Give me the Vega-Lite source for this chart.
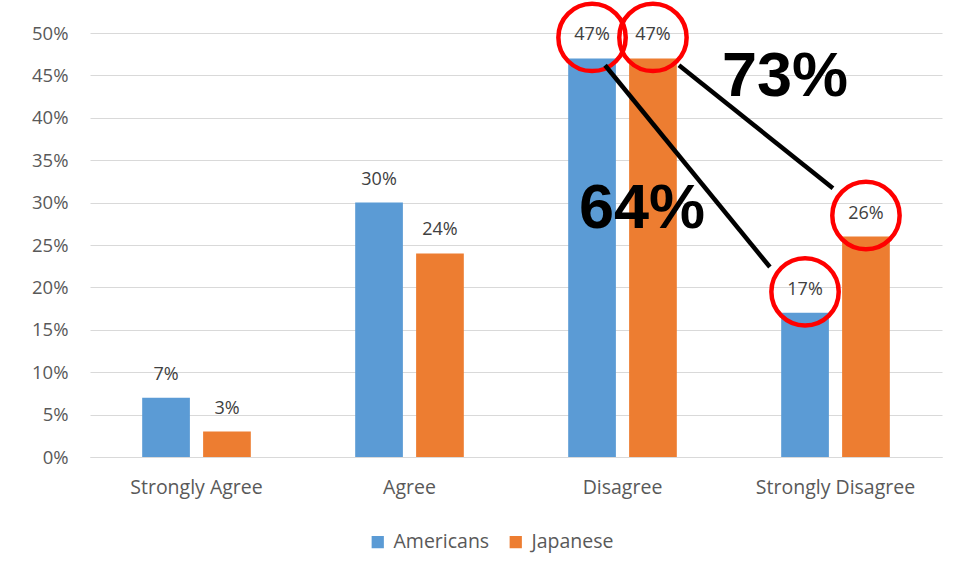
{
  "$schema": "https://vega.github.io/schema/vega-lite/v6.json",
  "width": 852,
  "height": 424,
  "autosize": {"type": "none"},
  "padding": {"left": 90, "top": 33, "right": 11, "bottom": 120},
  "background": "white",
  "config": {"font": "Open Sans", "view": {"stroke": null}},
  "datasets": {
    "survey": [
      {"answer": "Strongly Agree", "group": "Americans", "share": 0.07},
      {"answer": "Strongly Agree", "group": "Japanese", "share": 0.03},
      {"answer": "Agree", "group": "Americans", "share": 0.30},
      {"answer": "Agree", "group": "Japanese", "share": 0.24},
      {"answer": "Disagree", "group": "Americans", "share": 0.47},
      {"answer": "Disagree", "group": "Japanese", "share": 0.47},
      {"answer": "Strongly Disagree", "group": "Americans", "share": 0.17},
      {"answer": "Strongly Disagree", "group": "Japanese", "share": 0.26}
    ],
    "links": [
      {"link": "Americans", "pos": 2.418, "share": 0.462},
      {"link": "Americans", "pos": 3.192, "share": 0.224},
      {"link": "Japanese", "pos": 2.765, "share": 0.462},
      {"link": "Japanese", "pos": 3.488, "share": 0.317}
    ],
    "totals": [
      {"label": "73%", "pos": 3.263, "share": 0.448},
      {"label": "64%", "pos": 2.592, "share": 0.293}
    ]
  },
  "layer": [
    {
      "data": {"name": "survey"},
      "encoding": {
        "x": {
          "field": "answer",
          "type": "nominal",
          "sort": ["Strongly Agree", "Agree", "Disagree", "Strongly Disagree"],
          "scale": {"paddingInner": 0.49, "paddingOuter": 0.245},
          "axis": {
            "title": null,
            "labelAngle": 0,
            "labelFontSize": 19.5,
            "labelColor": "#595959",
            "ticks": false,
            "domainColor": "#d9d9d9",
            "labelPadding": 21
          }
        },
        "xOffset": {
          "field": "group",
          "type": "nominal",
          "scale": {"paddingInner": 0.217}
        },
        "y": {
          "field": "share",
          "type": "quantitative",
          "scale": {"domain": [0, 0.5], "nice": false},
          "axis": {
            "title": null,
            "values": [0, 0.05, 0.1, 0.15, 0.2, 0.25, 0.3, 0.35, 0.4, 0.45, 0.5],
            "format": ".0%",
            "ticks": false,
            "domain": false,
            "gridColor": "#d9d9d9",
            "labelFontSize": 18.5,
            "labelColor": "#595959",
            "labelPadding": 22
          }
        }
      },
      "layer": [
        {
          "mark": {"type": "bar"},
          "encoding": {
            "color": {
              "field": "group",
              "type": "nominal",
              "scale": {"domain": ["Americans", "Japanese"], "range": ["#5B9BD5", "#ED7D31"]},
              "legend": {
                "title": null,
                "orient": "none",
                "legendX": 278,
                "legendY": 499,
                "direction": "horizontal",
                "labelFontSize": 19.5,
                "labelColor": "#595959",
                "labelOffset": 6,
                "symbolType": "square",
                "symbolSize": 150,
                "symbolStrokeWidth": 0,
                "columnPadding": 16
              }
            }
          }
        },
        {
          "mark": {"type": "text", "baseline": "alphabetic", "dy": -18, "fontSize": 18, "color": "#404040"},
          "encoding": {"text": {"field": "share", "type": "quantitative", "format": ".0%"}}
        },
        {
          "transform": [{"filter": "datum.answer === 'Disagree' || datum.answer === 'Strongly Disagree'"}],
          "mark": {"type": "point", "shape": "circle", "filled": false, "stroke": "#FF0000", "strokeWidth": 4.5, "size": 4536, "yOffset": -21, "xOffset": -7, "opacity": 1}
        }
      ]
    },
    {
      "encoding": {
        "x": {"field": "pos", "type": "quantitative", "scale": {"domain": [0, 4], "nice": false, "zero": false}, "axis": null},
        "y": {"field": "share", "type": "quantitative"}
      },
      "layer": [
        {
          "data": {"name": "links"},
          "mark": {"type": "line", "color": "black", "strokeWidth": 4.5},
          "encoding": {"detail": {"field": "link", "type": "nominal"}}
        },
        {
          "data": {"name": "totals"},
          "mark": {"type": "text", "font": "Liberation Sans", "fontWeight": "bold", "fontSize": 63, "color": "black", "baseline": "middle", "align": "center"},
          "encoding": {"text": {"field": "label", "type": "nominal"}}
        }
      ]
    }
  ],
  "resolve": {"scale": {"x": "independent"}}
}
